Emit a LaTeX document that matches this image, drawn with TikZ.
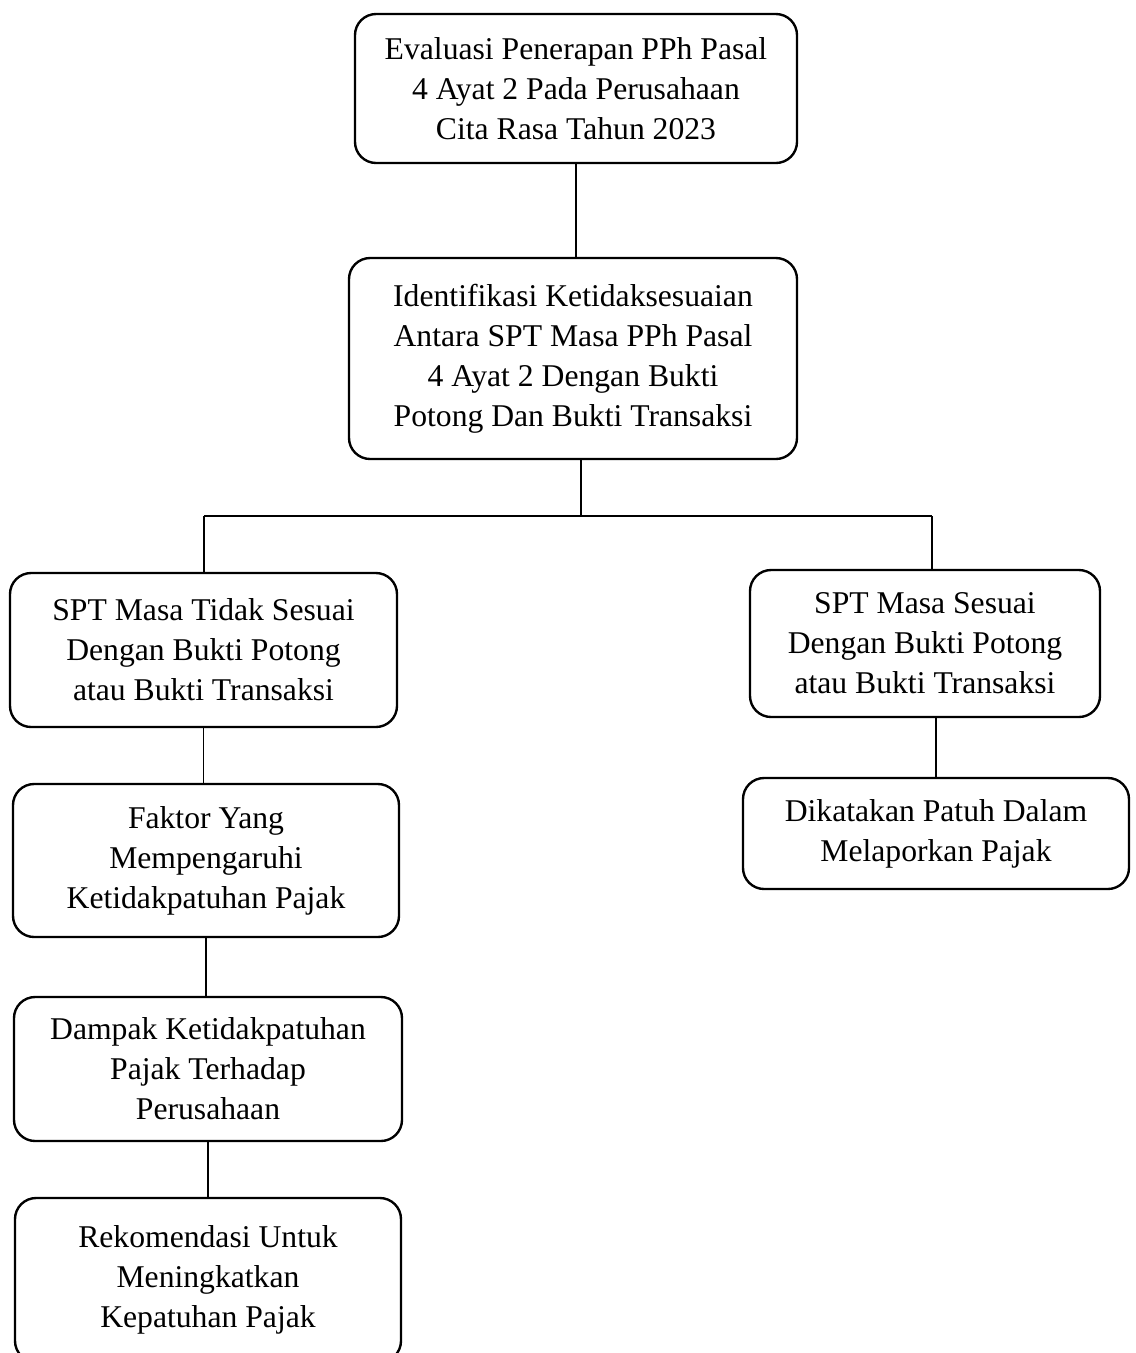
\documentclass[tikz,border=0pt]{standalone}
\usepackage{fontspec}
\setmainfont{Liberation Serif}
\usetikzlibrary{calc}

\begin{document}
\begin{tikzpicture}[x=0.379pt, y=-0.379pt, every node/.style={font=\fontsize{12}{15.2}\selectfont}]
        % Page frame (pixel-like units, y grows downwards)
        \useasboundingbox (0,0) rectangle (1135,1353);

        % Configuration parameters
        \def\px{0.379pt}   % size of one unit as a length
        \def\ySplit{516}   % height of the branching line

        \tikzset{
            box/.style={draw, line width=0.9pt, rounded corners=8pt, align=center, inner sep=0pt,
                execute at begin node={\vspace*{3pt}}},
            link/.style={line width=0.55pt}
        }

        % Macro to draw one rounded box: name, centre x, centre y, width, height, text
        \newcommand{\drawBox}[6]{
            \node[box, minimum width={#4*\px}, minimum height={#5*\px}] (#1) at (#2,#3) {#6};
        }

        % Main column
        \drawBox{evaluasi}{576}{88.5}{442}{149}{Evaluasi Penerapan PPh Pasal\\4 Ayat 2 Pada Perusahaan\\Cita Rasa Tahun 2023}
        \drawBox{identifikasi}{573}{358.5}{448}{201}{Identifikasi Ketidaksesuaian\\Antara SPT Masa PPh Pasal\\4 Ayat 2 Dengan Bukti\\Potong Dan Bukti Transaksi}

        % Left branch: not matching
        \drawBox{tidakSesuai}{203.5}{650}{387}{154}{SPT Masa Tidak Sesuai\\Dengan Bukti Potong\\atau Bukti Transaksi}
        \drawBox{faktor}{206}{860.5}{386}{153}{Faktor Yang\\Mempengaruhi\\Ketidakpatuhan Pajak}
        \drawBox{dampak}{208}{1069}{388}{144}{Dampak Ketidakpatuhan\\Pajak Terhadap\\Perusahaan}
        \drawBox{rekomendasi}{208}{1280}{386}{164}{Rekomendasi Untuk\\Meningkatkan\\Kepatuhan Pajak}

        % Right branch: matching
        \drawBox{sesuai}{925}{643.5}{350}{147}{SPT Masa Sesuai\\Dengan Bukti Potong\\atau Bukti Transaksi}
        \drawBox{patuh}{936}{833.5}{386}{111}{Dikatakan Patuh Dalam\\Melaporkan Pajak}

        % Branch points
        \coordinate (split) at (581,\ySplit);
        \coordinate (splitLeft) at (204,\ySplit);
        \coordinate (splitRight) at (932,\ySplit);

        % Connectors
        \draw[link] (evaluasi.south) -- (evaluasi.south |- identifikasi.north);
        \draw[link] (identifikasi.south -| split) -- (split);
        \draw[link] (splitLeft) -- (splitRight);
        \draw[link] (splitLeft) -- (splitLeft |- tidakSesuai.north);
        \draw[link] (splitRight) -- (splitRight |- sesuai.north);
        \draw[link] (tidakSesuai.south) -- (tidakSesuai.south |- faktor.north);
        \draw[link] (faktor.south) -- (faktor.south |- dampak.north);
        \draw[link] (dampak.south) -- (dampak.south |- rekomendasi.north);
        \draw[link] (sesuai.south -| patuh.north) -- (patuh.north);

    \end{tikzpicture}
\end{document}
